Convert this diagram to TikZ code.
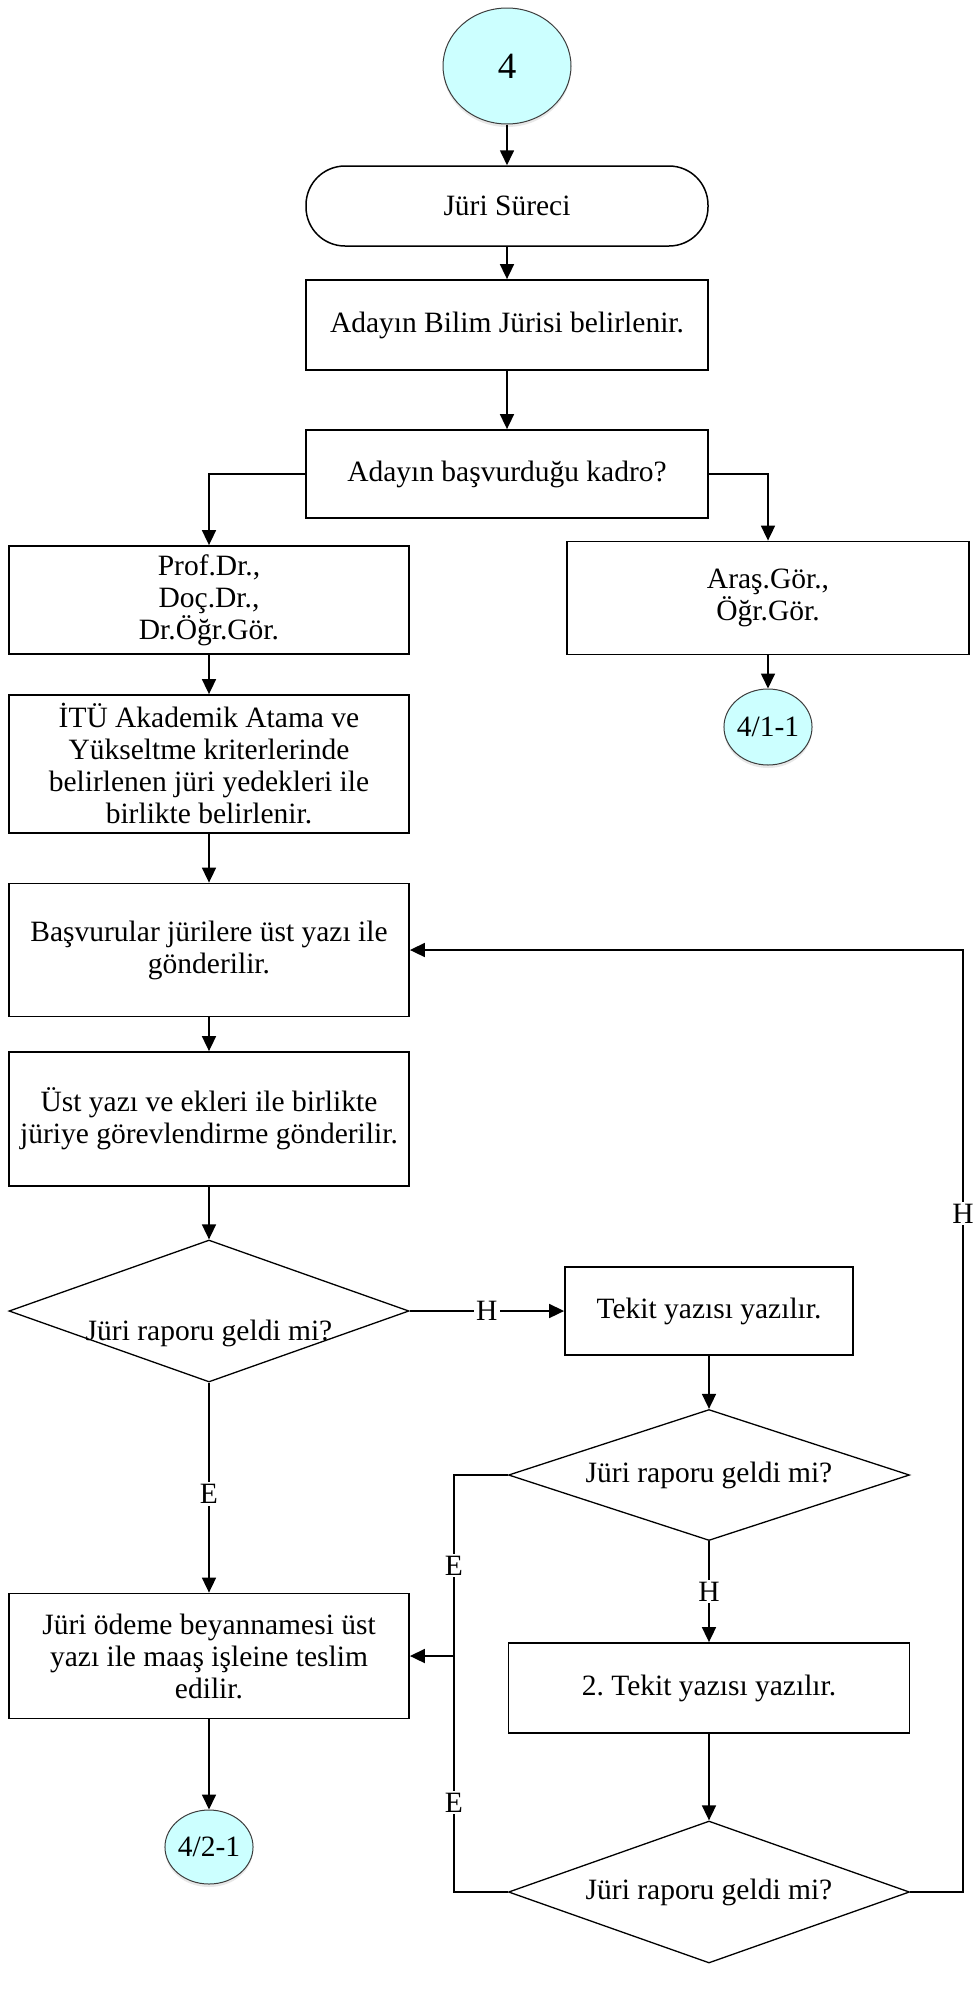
\documentclass[tikz,border=0pt]{standalone}
\usepackage{fontspec}
\setmainfont{Liberation Serif}
\usetikzlibrary{arrows.meta,shapes.geometric,shadows}
\definecolor{connfill}{RGB}{204,255,255}
\definecolor{connedge}{RGB}{60,60,60}
\frenchspacing

\begin{document}
\begin{tikzpicture}[x=1pt,y=-1pt,
  every node/.style={font=\fontsize{29.5}{32}\selectfont},
  stepbox/.style={draw, line width=1.8pt, rectangle, inner sep=0pt, align=center},
  termbox/.style={draw, line width=1.5pt, rectangle, rounded corners=39pt, inner sep=0pt, align=center},
  decide/.style={draw, line width=1.3pt, diamond, shape aspect=2.8, inner sep=0pt, align=center},
  conn/.style={draw=connedge, line width=1pt, ellipse, fill=connfill, inner sep=0pt,
    drop shadow={opacity=0.18, shadow xshift=0pt, shadow yshift=-3pt}},
  line/.style={draw, line width=1.7pt},
  arr/.style={line, -{Triangle[length=15pt,width=14pt]}},
  lbl/.style={fill=white, inner sep=2pt}
]
\useasboundingbox (0,0) rectangle (974,2000);

% main column (top)
\node[conn, minimum width=128pt, minimum height=116pt, font=\fontsize{37}{37}\selectfont] (c4) at (507,66) {4};
\node[termbox, minimum width=402pt, minimum height=80pt] (term) at (507,206) {Jüri Süreci};
\node[stepbox, minimum width=402pt, minimum height=90pt] (bilim) at (507,325) {Adayın Bilim Jürisi belirlenir.};
\node[stepbox, minimum width=402pt, minimum height=88pt] (kadro) at (507,474) {Adayın başvurduğu kadro?};

% right branch
\node[stepbox, minimum width=402pt, minimum height=113pt] (aras) at (768,598) {Araş.Gör.,\\Öğr.Gör.};
\node[conn, minimum width=84pt, minimum height=76pt] (c41) at (768,727) {4/1-1};

% left column
\node[stepbox, minimum width=400pt, minimum height=108pt] (prof) at (209,600) {Prof.Dr.,\\Doç.Dr.,\\Dr.Öğr.Gör.};
\node[stepbox, minimum width=400pt, minimum height=138pt] (itu) at (209,764) {İTÜ Akademik Atama ve\\Yükseltme kriterlerinde\\belirlenen jüri yedekleri ile\\birlikte belirlenir.};
\node[stepbox, minimum width=400pt, minimum height=133pt] (basv) at (209,950) {Başvurular jürilere üst yazı ile\\gönderilir.};
\node[stepbox, minimum width=400pt, minimum height=134pt] (ust) at (209,1119) {Üst yazı ve ekleri ile birlikte\\jüriye görevlendirme gönderilir.};
\node[decide, minimum width=400pt, minimum height=142pt] (d1) at (209,1311) {\smash{\raisebox{-29pt}{Jüri raporu geldi mi?}}};
\node[stepbox, minimum width=400pt, minimum height=125pt] (odeme) at (209,1656) {Jüri ödeme beyannamesi üst\\yazı ile maaş işleine teslim\\edilir.};
\node[conn, minimum width=85pt, minimum height=74pt] (c42) at (209,1847) {4/2-1};

% reminder column
\node[stepbox, minimum width=288pt, minimum height=88pt] (tekit) at (709,1311) {Tekit yazısı yazılır.};
\node[decide, minimum width=401pt, minimum height=131pt] (d2) at (709,1475) {Jüri raporu geldi mi?};
\node[stepbox, minimum width=401pt, minimum height=90pt] (tekit2) at (709,1688) {2. Tekit yazısı yazılır.};
\node[decide, minimum width=401pt, minimum height=142pt] (d3) at (709,1892) {Jüri raporu geldi mi?};

% routing points
\coordinate (eTop) at (454,1475);
\coordinate (eMid) at (eTop |- odeme.east);
\coordinate (eBot) at (454,1892);
\coordinate (hBot) at (963,1892);
\coordinate (hTop) at (hBot |- basv.east);

% connectors
\draw[arr] (c4) -- (term);
\draw[arr] (term) -- (bilim);
\draw[arr] (bilim) -- (kadro);
\draw[arr] (kadro.west) -| (prof.north);
\draw[arr] (kadro.east) -| (aras.north);
\draw[arr] (aras) -- (c41);
\draw[arr] (prof) -- (itu);
\draw[arr] (itu) -- (basv);
\draw[arr] (basv) -- (ust);
\draw[arr] (ust) -- (d1);
\draw[arr] (d1.east) -- node[lbl]{H} (tekit.west);
\draw[arr] (d1.south) -- node[lbl, pos=0.53]{E} (odeme.north);
\draw[arr] (odeme) -- (c42);
\draw[arr] (tekit) -- (d2);
\draw[arr] (d2.south) -- node[lbl]{H} (tekit2.north);
\draw[arr] (tekit2) -- (d3);
\draw[line] (d2.west) -- (eTop) -- node[lbl]{E} (eMid) -- node[lbl, pos=0.62]{E} (eBot) -- (d3.west);
\draw[arr] (eMid) -- (odeme.east);
\draw[arr] (d3.east) -- (hBot) -- node[lbl, pos=0.72]{H} (hTop) -- (basv.east);
\end{tikzpicture}
\end{document}
